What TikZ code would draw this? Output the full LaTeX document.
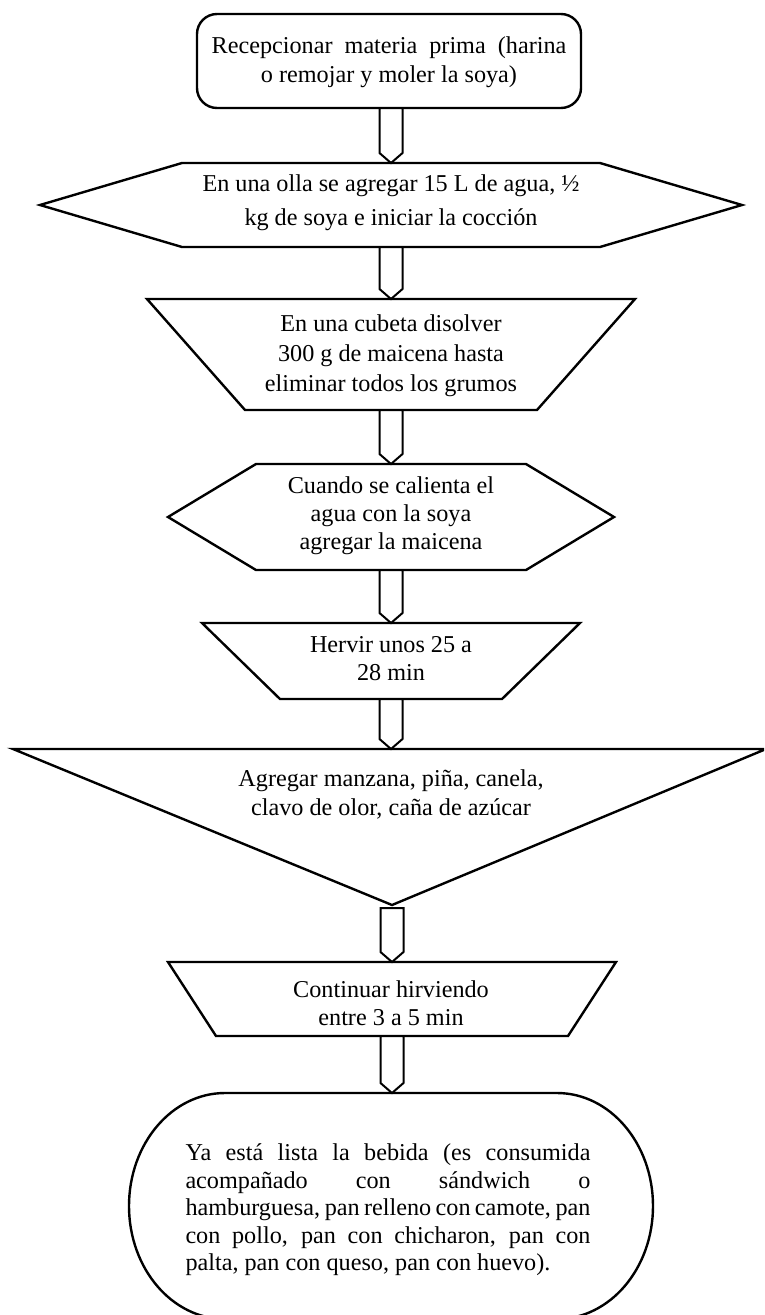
\documentclass[tikz,border=0pt]{standalone}
\usepackage{fontspec}
\setmainfont{Liberation Serif}
\usetikzlibrary{calc}

% down-pointing block arrow between two points on the same vertical
\newcommand\flowarrow[2]{%
  \draw[arrowbody] ($(#1)+(-11.5,0)$) -- ($(#2)+(-11.5,10)$) -- (#2)
    -- ($(#2)+(11.5,10)$) -- ($(#1)+(11.5,0)$) -- cycle;}

\begin{document}
\begin{tikzpicture}[x=1pt,y=1pt,
  shapeline/.style={draw=black,line width=2.4pt,fill=white,line join=miter},
  arrowbody/.style={draw=black,line width=2pt,fill=white,line join=miter},
  label/.style={align=center,inner sep=0pt,font=\fontsize{24.2}{#1}\selectfont},
  label/.default=28]
\useasboundingbox (0,0) rectangle (764,-1315);
\fill[white] (0,0) rectangle (764,-1315);
\clip (0,0) rectangle (764,-1315);

% step outlines
\draw[shapeline,rounded corners=20pt] (197,-14) rectangle (581,-108);
\draw[shapeline] (40,-205) -- (182,-163) -- (600,-163) -- (742,-205) -- (600,-247) -- (182,-247) -- cycle;
\draw[shapeline] (147,-299) -- (635,-299) -- (537,-410) -- (245,-410) -- cycle;
\draw[shapeline] (168,-517) -- (256,-464) -- (526,-464) -- (614,-517) -- (526,-570) -- (256,-570) -- cycle;
\draw[shapeline] (202,-623) -- (580,-623) -- (502,-699) -- (280,-699) -- cycle;
\draw[shapeline] (13,-749) -- (766,-749) -- (392,-905) -- cycle;
\draw[shapeline] (168,-962) -- (616,-962) -- (568,-1036) -- (216,-1036) -- cycle;
\draw[shapeline] (225,-1093) -- (557,-1093)
  arc[start angle=90,end angle=-90,x radius=96,y radius=113]
  -- (225,-1319)
  arc[start angle=270,end angle=90,x radius=96,y radius=113] -- cycle;

% anchor points for the block arrows
\coordinate (b1) at (391,-108);  \coordinate (a1) at (391,-163);
\coordinate (b2) at (391,-247);  \coordinate (a2) at (391,-299);
\coordinate (b3) at (391,-410);  \coordinate (a3) at (391,-464);
\coordinate (b4) at (391,-570);  \coordinate (a4) at (391,-623);
\coordinate (b5) at (391,-699);  \coordinate (a5) at (391,-749);
\coordinate (b6) at (392,-908);  \coordinate (a6) at (392,-962);
\coordinate (b7) at (392,-1036); \coordinate (a7) at (392,-1093);

\flowarrow{b1}{a1}
\flowarrow{b2}{a2}
\flowarrow{b3}{a3}
\flowarrow{b4}{a4}
\flowarrow{b5}{a5}
\flowarrow{b6}{a6}
\flowarrow{b7}{a7}

% step texts
\node[label=29] (t1) at (389,-62) {Recepcionar\ \ materia\ \ prima\ \ (harina\\o remojar\ y moler\ la soya)};
\node[label=34] (t2) at (391,-203) {En una olla se agregar 15 L de agua, ½\\kg de soya e iniciar\ la cocción};
\node[label=30] (t3) at (391,-356) {En una cubeta disolver\\300 g de maicena\ hasta\\eliminar\ todos los grumos};
\node[label=28] (t4) at (391,-516) {Cuando se calienta\ el\\agua con la soya\\agregar la maicena};
\node[label=28] (t5) at (391,-659) {Hervir unos 25 a\\28 min};
\node[label=29] (t6) at (391,-794) {Agregar manzana,\ piña, canela,\\clavo de olor, caña de azúcar};
\node[label=28] (t7) at (391,-1003) {Continuar hirviendo\\entre 3 a 5 min};
\node[label=27.5,align=left] (t8) at (388,-1210) {%
  \makebox[405pt][s]{Ya está lista la bebida (es consumida}\\
  \makebox[405pt][s]{acompañado con sándwich o}\\
  \makebox[405pt][s]{hamburguesa, pan relleno con camote, pan}\\
  \makebox[405pt][s]{con pollo, pan con chicharon, pan con}\\
  palta, pan con queso, pan con huevo).};
\end{tikzpicture}
\end{document}
